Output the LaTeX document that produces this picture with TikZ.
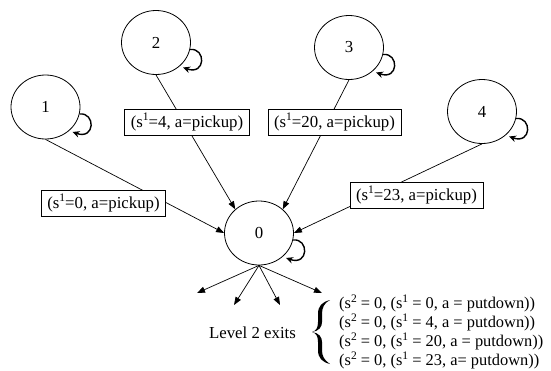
\documentclass[tikz,border=0pt]{standalone}
\usepackage{fontspec}
\setmainfont{Liberation Serif}
\usetikzlibrary{arrows.meta,shapes.geometric}
\newcommand{\mysup}[1]{\raisebox{0.4em}{\fontsize{11.5}{12}\selectfont #1}}
\begin{document}
\begin{tikzpicture}[x=1pt,y=-1pt,
  font=\fontsize{16.8}{19}\selectfont,
  state/.style={ellipse, draw, line width=0.8pt, minimum width=69pt, minimum height=64pt, inner sep=0pt},
  lbl/.style={draw, fill=white, line width=0.8pt, minimum height=26pt, inner xsep=6pt, inner ysep=0pt},
  edgeln/.style={line width=0.7pt, -{Triangle[length=8pt,width=6pt]}},
  selfloop/.style={line width=1.4pt, -{Stealth[length=7pt,width=6.5pt]}},
]
\useasboundingbox (0,0) rectangle (551,370);

\node[state] (n1) at (45.5,107) {1};
\node[state] (n2) at (156,42.5) {2};
\node[state] (n3) at (349,47.5) {3};
\node[state] (n4) at (482,111.5) {4};
\node[state] (n0) at (259,233) {0};

\draw[edgeln] (n1.south) -- (n0.west);
\draw[edgeln] (n2.south) -- (n0.135);
\draw[edgeln] (n3.south) -- (n0.45);
\draw[edgeln] (n4.south) -- (n0.east);

\foreach \n in {n1,n2,n3,n4,n0}{
  \draw[selfloop] ([shift={(34,7)}]\n.center) .. controls ([shift={(50,5)}]\n.center) and ([shift={(50,33)}]\n.center) .. ([shift={(27,25)}]\n.center);
}

\node[lbl] (l0) at (103.5,203) {(s\mysup{1}=0, a=pickup)};
\node[lbl] (l4) at (187,122) {(s\mysup{1}=4, a=pickup)};
\node[lbl] (l20) at (334.5,122) {(s\mysup{1}=20, a=pickup)};
\node[lbl] (l23) at (416.5,195) {(s\mysup{1}=23, a=pickup)};

\coordinate (e1) at (197,293);
\coordinate (e2) at (234,305);
\coordinate (e3) at (280,305);
\coordinate (e4) at (322,293);
\foreach \e in {e1,e2,e3,e4}{
  \draw[edgeln] (n0.south) -- (\e);
}

\node (lvl) at (252.5,333) {Level 2 exits};
\node[anchor=west, align=left, inner sep=0pt, font=\fontsize{16.4}{19}\selectfont] (exits) at (339,332)
 {(s\mysup{2} = 0, (s\mysup{1} = 0, a = putdown))\\
  (s\mysup{2} = 0, (s\mysup{1} = 4, a = putdown))\\
  (s\mysup{2} = 0, (s\mysup{1} = 20, a = putdown))\\
  (s\mysup{2} = 0, (s\mysup{1} = 23, a= putdown))};

\fill (330,300) .. controls (322,302) and (318,306) .. (318,314) -- (318,322)
  .. controls (318,328) and (316,331) .. (312,332)
  .. controls (316,333) and (318,336) .. (318,342) -- (318,350)
  .. controls (318,358) and (322,362) .. (330,364)
  .. controls (324,360) and (322,356) .. (322,350) -- (322,342)
  .. controls (322,337) and (319,333) .. (312,332)
  .. controls (319,331) and (322,327) .. (322,322) -- (322,314)
  .. controls (322,308) and (324,303) .. (330,300) -- cycle;
\end{tikzpicture}
\end{document}
